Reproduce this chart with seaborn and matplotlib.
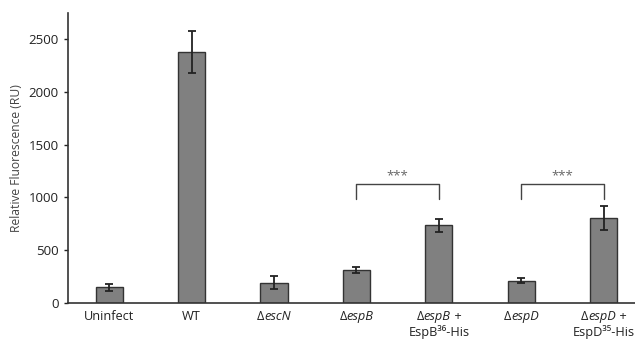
import pandas as pd
import seaborn as sns
import matplotlib.pyplot as plt
from matplotlib.offsetbox import TextArea, HPacker, VPacker, AnnotationBbox

# Values
strains = ['Uninfect', 'WT', 'dEscN', 'dEspB', 'dEspB+EspB36', 'dEspD', 'dEspD+EspD35']
fluorescence = [145, 2380, 190, 310, 733, 209, 803]
errors = [35, 200, 60, 25, 63, 25, 115]
brackets = [(3, 4, 1130, 980), (5, 6, 1130, 980)]

# tick label text: lines of (text, italic) pieces
label_lines = [
    [[('Uninfect', False)]],
    [[('WT', False)]],
    [[('Δ', False), ('escN', True)]],
    [[('Δ', False), ('espB', True)]],
    [[('Δ', False), ('espB', True), (' +', False)], [('EspB³⁶-His', False)]],
    [[('Δ', False), ('espD', True)]],
    [[('Δ', False), ('espD', True), (' +', False)], [('EspD³⁵-His', False)]],
]

sns.set_style('white')
plt.rcParams['font.family'] = ['Open Sans', 'DejaVu Sans']

df = pd.DataFrame({'strain': strains, 'rfu': fluorescence})

fig = plt.figure(figsize=(6.35, 3.42), dpi=100)
ax = fig.add_axes([0.107, 0.115, 0.893, 0.847])
sns.barplot(data=df, x='strain', y='rfu', color='#808080', saturation=1,
            width=0.33, edgecolor='#333333', linewidth=1, ax=ax)
ax.errorbar(range(len(strains)), fluorescence, yerr=errors, fmt='none',
            ecolor='#222222', elinewidth=1.3, capsize=3, capthick=1.3)

for a, b, top, leg in brackets:
    ax.plot([a, a, b, b], [leg, top, top, leg], color='#444444', lw=1)
    ax.text((a + b) / 2, top + 15, '***', ha='center', va='bottom',
            fontsize=9.5, color='#666666')

# x labels built from pieces so italic parts sit flush
for i, lines in enumerate(label_lines):
    rows = []
    for parts in lines:
        areas = [TextArea(t, textprops=dict(fontsize=9.2, color='#222222',
                                            fontstyle='italic' if it else 'normal'))
                 for t, it in parts]
        rows.append(HPacker(children=areas, align='baseline', pad=0, sep=0))
    box = VPacker(children=rows, align='center', pad=0, sep=1)
    ab = AnnotationBbox(box, (i, 0), xycoords=('data', 'axes fraction'),
                        xybox=(0, -5.5), boxcoords='offset points',
                        box_alignment=(0.5, 1), frameon=False,
                        annotation_clip=False)
    ax.add_artist(ab)

ax.set_xlim(-0.5, 6.38)
ax.set_ylim(0, 2750)
ax.set_yticks([0, 500, 1000, 1500, 2000, 2500])
ax.set_xticks(range(len(strains)))
ax.set_xticklabels([''] * len(strains))
ax.set_xlabel('')
ax.set_ylabel('Relative Fluorescence (RU)', fontsize=8.7, color='#444444')
ax.tick_params(axis='y', labelsize=9.5, colors='#222222', length=3, width=1,
               direction='out', left=True)
ax.tick_params(axis='x', length=0)
for side in ['top', 'right']:
    ax.spines[side].set_visible(False)
for side in ['left', 'bottom']:
    ax.spines[side].set_color('#333333')
    ax.spines[side].set_linewidth(1.2)

fig.savefig('out.png', dpi=100)
